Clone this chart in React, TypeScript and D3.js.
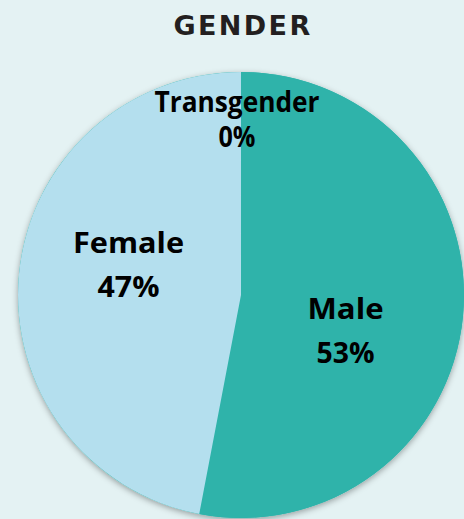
import React from "react";
import * as d3 from "d3";

const categories = ["Male", "Female", "Transgender"];
const values = [53, 47, 0.001];
const pctLabels = ["53%", "47%", "0%"];
const colors = ["#2fb3aa", "#b4dfee", "#b4dfee"];
// label placement / fitting (layout, not data)
const labelRadius = [104, 112, 172];
const labelShift: [number, number][] = [[1, 17], [-1, -28], [-4, -8]];
const lineGap = [44, 44, 35];
const nameWidths = [76, 111, 165];
const pctWidths = [58, 62, 37];

const W = 464;
const H = 519;
const cx = 241;
const cy = 295;
const R = 223;

export default function App() {
  const pie = d3.pie<number>().sort(null).startAngle(0).endAngle(2 * Math.PI);
  const arcs = pie(values);
  const arcGen = d3.arc<d3.PieArcDatum<number>>().innerRadius(0).outerRadius(R);
  const font = "'Open Sans', 'Noto Sans', sans-serif";
  return (
    <svg width={W} height={H} style={{ position: "absolute", left: 0, top: 0, background: "#e4f2f3" }}>
      <defs>
        <filter id="sh" x="-20%" y="-20%" width="140%" height="140%">
          <feDropShadow dx="0" dy="2" stdDeviation="3" floodColor="#000" floodOpacity="0.35" />
        </filter>
      </defs>
      <rect width={W} height={H} fill="#e4f2f3" />
      <text x={243} y={35} textAnchor="middle" fontFamily="'DejaVu Sans', sans-serif" fontWeight={700} fontSize={27} letterSpacing={2.4} fill="#231f20">GENDER</text>
      <g transform={`translate(${cx},${cy})`}>
        <g filter="url(#sh)">
          <circle r={R} fill={colors[0]} />
        </g>
        {arcs.map((a, i) => (
          <path key={categories[i]} d={arcGen(a) || ""} fill={colors[i]} />
        ))}
        {arcs.map((a, i) => {
          const lab = d3.arc<d3.PieArcDatum<number>>().innerRadius(labelRadius[i]).outerRadius(labelRadius[i]);
          const [x, y] = lab.centroid(a);
          const lx = x + labelShift[i][0];
          const ly = y + labelShift[i][1];
          return (
            <g key={"l" + i} fontFamily={font} fontWeight={700} fontSize={28} fill="#000">
              <text x={lx - nameWidths[i] / 2} y={ly - 3} textLength={nameWidths[i]} lengthAdjust="spacingAndGlyphs">{categories[i]}</text>
              <text x={lx - pctWidths[i] / 2} y={ly - 3 + lineGap[i]} textLength={pctWidths[i]} lengthAdjust="spacingAndGlyphs">{pctLabels[i]}</text>
            </g>
          );
        })}
      </g>
    </svg>
  );
}
